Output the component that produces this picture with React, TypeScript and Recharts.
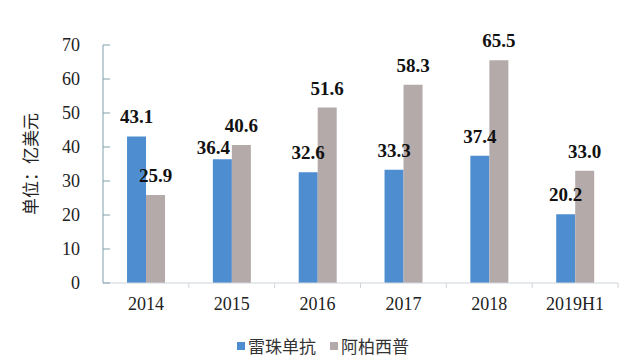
import { Bar, BarChart, LabelList, Legend, XAxis, YAxis } from "recharts";

const years = ["2014", "2015", "2016", "2017", "2018", "2019H1"];
const ranibizumab = [43.1, 36.4, 32.6, 33.3, 37.4, 20.2];
const aflibercept = [25.9, 40.6, 51.6, 58.3, 65.5, 33.0];
const yTicks = [0, 10, 20, 30, 40, 50, 60, 70];

const SERIES = [
  { key: "ranibizumab", name: "雷珠单抗", color: "#4d8dd0" },
  { key: "aflibercept", name: "阿柏西普", color: "#b3aaa9" },
];

const data = years.map((year, i) => ({
  year,
  ranibizumab: ranibizumab[i],
  aflibercept: aflibercept[i],
}));

const SERIF = "'Liberation Serif', 'Times New Roman', serif";
const CJK = "'Noto Sans CJK SC', sans-serif";
const Y_AXIS_COLOR = "#7f9fab";
const X_AXIS_COLOR = "#cfd5da";

// the source nudged one crowded label by hand
const LABEL_NUDGE: Record<string, [number, number]> = { "ranibizumab-1": [-9, 8] };

// Excel-style inner tick marks on the value axis
function YTick(props: any) {
  const { x, y, payload } = props;
  return (
    <g>
      <line x1={x} x2={x + 7} y1={y} y2={y} stroke={Y_AXIS_COLOR} strokeWidth={1} />
      <text
        x={x - 23}
        y={y}
        textAnchor="end"
        dominantBaseline="central"
        fill="#222"
        fontSize={18}
        fontFamily={SERIF}
      >
        {payload.value}
      </text>
    </g>
  );
}

// Category label plus a short tick at the right edge of each band
function XTick(props: any) {
  const { x, y, payload } = props;
  const half = payload.offset || 43;
  return (
    <g>
      <line x1={x + half} x2={x + half} y1={y} y2={y + 5} stroke={X_AXIS_COLOR} strokeWidth={1} />
      <text x={x} y={y + 27} textAnchor="middle" fill="#222" fontSize={18} fontFamily={SERIF}>
        {payload.value}
      </text>
    </g>
  );
}

function UnitLabel(props: any) {
  const { viewBox } = props;
  const cx = 29;
  const cy = viewBox.y + viewBox.height / 2;
  return (
    <text
      x={cx}
      y={cy}
      transform={`rotate(-90 ${cx} ${cy})`}
      textAnchor="middle"
      dominantBaseline="central"
      fill="#222"
      fontSize={17}
      fontFamily={CJK}
    >
      单位：亿美元
    </text>
  );
}

function makeValueLabel(seriesKey: string) {
  return function ValueLabel(props: any) {
    const { x, y, width, value, index } = props;
    const [dx, dy] = LABEL_NUDGE[`${seriesKey}-${index}`] || [0, 0];
    return (
      <text
        x={x + width / 2 + dx}
        y={y - 13 + dy}
        textAnchor="middle"
        fill="#111"
        fontSize={19}
        fontWeight="bold"
        fontFamily={SERIF}
      >
        {Number(value).toFixed(1)}
      </text>
    );
  };
}

function LegendContent() {
  return (
    <div
      style={{
        display: "flex",
        justifyContent: "center",
        alignItems: "center",
        gap: 14,
        fontFamily: CJK,
        fontSize: 17,
        color: "#333",
        paddingLeft: 8,
      }}
    >
      {SERIES.map((s) => (
        <span key={s.key} style={{ display: "flex", alignItems: "center" }}>
          <span
            style={{ width: 8, height: 8, background: s.color, display: "inline-block", marginRight: 3 }}
          />
          {s.name}
        </span>
      ))}
    </div>
  );
}

export default function App() {
  return (
    <div style={{ position: "absolute", left: 0, top: 0, background: "#fff" }}>
      <BarChart
        width={625}
        height={361}
        data={data}
        margin={{ top: 45, right: 7, left: 20, bottom: 4 }}
        barCategoryGap="28%"
        barGap={0}
      >
        <XAxis
          dataKey="year"
          height={50}
          axisLine={{ stroke: X_AXIS_COLOR }}
          tickLine={false}
          tickSize={0}
          tickMargin={0}
          tick={<XTick />}
          interval={0}
        />
        <YAxis
          width={83}
          domain={[0, 70]}
          ticks={yTicks}
          axisLine={{ stroke: Y_AXIS_COLOR }}
          tickLine={false}
          tickSize={0}
          tickMargin={0}
          tick={<YTick />}
          label={<UnitLabel />}
        />
        <Legend verticalAlign="bottom" height={24} content={<LegendContent />} />
        {SERIES.map((s) => {
          const ValueLabel = makeValueLabel(s.key);
          return (
            <Bar key={s.key} dataKey={s.key} name={s.name} fill={s.color} isAnimationActive={false}>
              <LabelList dataKey={s.key} content={<ValueLabel />} />
            </Bar>
          );
        })}
      </BarChart>
    </div>
  );
}
